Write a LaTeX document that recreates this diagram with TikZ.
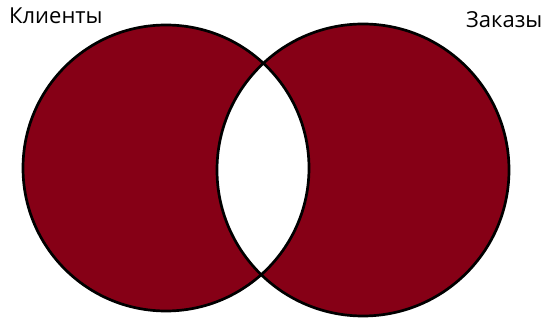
\documentclass[tikz,border=0pt]{standalone}
\usepackage{fontspec}
\setmainfont{Open Sans}
\definecolor{vennred}{RGB}{134,0,22}
\begin{document}
\begin{tikzpicture}[x=1pt,y=-1pt,
  setcircle/.style={circle,draw=black,line width=2.7pt,inner sep=0pt,minimum size=#1},
  setlabel/.style={font=\fontsize{22}{26}\selectfont,anchor=base west,inner sep=0pt}]
\useasboundingbox (0,0) rectangle (544,320);
\fill[vennred,even odd rule] (166,168) circle[radius=143] (363,170) circle[radius=146];
\node[setcircle=286pt] (clients) at (166,168) {};
\node[setcircle=292pt] (orders) at (363,170) {};
\node[setlabel] (lclients) at (9,24) {Клиенты};
\node[setlabel] (lorders) at (466,28) {Заказы};
\end{tikzpicture}
\end{document}
